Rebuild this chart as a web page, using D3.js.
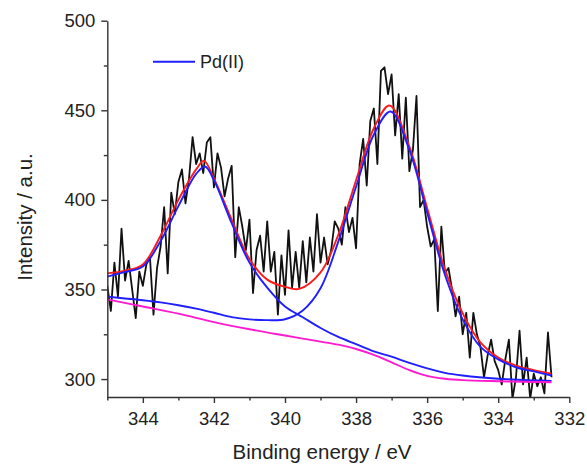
<!DOCTYPE html>
<html>
<head>
<meta charset="utf-8">
<script src="https://cdn.jsdelivr.net/npm/d3@7/dist/d3.min.js"></script>
<style>
  body { margin: 0; background: #fff; }
  svg text { font-family: "Liberation Sans", Arial, sans-serif; fill: #222; }
</style>
</head>
<body>
<div id="chart"></div>
<script>
// raw spectrum, 0.1 eV steps starting at 345 eV
const rawStart = 345
const rawStep = 0.1
const rawCounts = [
  352, 338, 365, 346, 384, 355, 366, 350, 334, 360,
  352, 364, 368, 336, 362, 374, 396, 359, 404, 392,
  410, 417, 398, 412, 435, 420, 426, 415, 432, 435,
  407, 426, 418, 402, 412, 419, 368, 396, 385, 372,
  389, 348, 372, 380, 360, 388, 360, 371, 336, 369,
  347, 383, 351, 371, 351, 377, 354, 379, 360, 392,
  365, 379, 364, 372, 388, 384, 375, 396, 382, 390,
  373, 420, 434, 408, 444, 451, 420, 472, 474, 459,
  470, 436, 459, 423, 457, 416, 428, 458, 396, 400,
  385, 374, 378, 338, 385, 359, 362, 350, 335, 346,
  325, 337, 312, 337, 325, 318, 301, 313, 322, 310,
  305, 297, 311, 322, 289, 301, 327, 297, 312, 289,
  303, 296, 301, 292, 326, 301
]

// fitted envelope (red)
const envE = [345, 344.5, 344, 343.5, 343, 342.5, 342.28, 342, 341.5, 341, 340.5, 340, 339.6, 339, 338.5, 338, 337.5, 337.06, 336.5, 336, 335.5, 335, 334.5, 334, 333.5, 333, 332.5]
const envelope = [359, 360.5, 364, 380, 400, 417, 421.8, 412, 389, 367, 355.5, 351.5, 350.3, 359.5, 380.5, 411, 440, 452.7, 429.8, 395.5, 361.2, 336.7, 320.5, 312, 307.5, 305, 303]

// Pd(II) 3d3/2 component (blue)
const pk1E = [345, 344.5, 344, 343.5, 343, 342.5, 342.25, 342, 341.5, 341, 340.5, 340, 339.5, 339, 338.5, 338, 337.5, 337, 336.5, 336, 335.5, 335, 334, 333, 332.5]
const peak1 = [357.2, 359.8, 362.8, 377, 396.5, 414.5, 418.6, 411, 387, 365, 351, 340.5, 334.5, 328.5, 323.5, 319.5, 315.5, 312.5, 309, 306, 303.5, 302, 300.2, 299.3, 299]

// Pd(II) 3d5/2 component (blue)
const pk2E = [345, 344.5, 344, 343.5, 343, 342.5, 342, 341.5, 341, 340.5, 340, 339.5, 339, 338.5, 338, 337.5, 337.03, 336.5, 336, 335.5, 335, 334.5, 334, 333.5, 333, 332.5]
const peak2 = [346, 345, 344, 342.8, 341.2, 339.3, 337, 334.6, 333.3, 332.9, 333.4, 338.3, 350.7, 376.7, 407.3, 436.5, 449.3, 427.9, 392.8, 358.2, 333.3, 318, 311, 306.6, 304.3, 302]

// Shirley background (magenta)
const bgE = [345, 344, 343, 342, 341, 340, 339.5, 339, 338.5, 338, 337.5, 337, 336.5, 336, 335.5, 335, 334, 333, 332.5]
const background = [344.5, 340.5, 336.5, 331.8, 327.8, 324.3, 322.6, 320.9, 319.2, 316.8, 313.5, 309.3, 305, 301.8, 300.2, 299.4, 298.8, 298.4, 298.2]

const xMajor = [344, 342, 340, 338, 336, 334, 332]
const xMinor = [345, 343, 341, 339, 337, 335, 333]
const yMajor = [300, 350, 400, 450, 500]
const yMinor = [325, 375, 425, 475]

const W = 587, H = 465
const margin = {left: 107.3, right: 17.7, top: 20.7, bottom: 68}

let svg = d3.select("#chart").append("svg")
    .attr("width", W)
    .attr("height", H)

let x = d3.scaleLinear().domain([345, 332]).range([margin.left, W - margin.right])
let y = d3.scaleLinear().domain([290, 500]).range([H - margin.bottom, margin.top])

svg.append("clipPath").attr("id", "plot-clip")
    .append("rect")
        .attr("x", x(345))
        .attr("y", y(500))
        .attr("width", x(332) - x(345))
        .attr("height", y(290) - y(500))

let plot = svg.append("g").attr("clip-path", "url(#plot-clip)")

let rawPts = rawCounts.map((v, i) => [rawStart - i * rawStep, v])
let zip = (es, vs) => es.map((e, i) => [e, vs[i]])

let smooth = d3.line().x(d => x(d[0])).y(d => y(d[1])).curve(d3.curveCatmullRom.alpha(0.5))
let straight = d3.line().x(d => x(d[0])).y(d => y(d[1]))

plot.append("path")
    .attr("d", straight(rawPts))
    .attr("fill", "none")
    .attr("stroke", "#111")
    .attr("stroke-width", 1.8)
    .attr("stroke-linejoin", "round")

let fits = [
    {pts: zip(envE, envelope), color: "#ff1a1a"},
    {pts: zip(pk1E, peak1), color: "#1f1fff"},
    {pts: zip(pk2E, peak2), color: "#1f1fff"},
    {pts: zip(bgE, background), color: "#ff1ad0"}
]
fits.forEach(f => {
    plot.append("path")
        .attr("d", smooth(f.pts))
        .attr("fill", "none")
        .attr("stroke", f.color)
        .attr("stroke-width", 1.9)
})

// axes
let xAxis = svg.append("g")
    .attr("transform", `translate(0,${y(290)})`)
    .call(d3.axisBottom(x).tickValues(xMajor).tickSize(6).tickSizeOuter(0).tickPadding(9).tickFormat(d3.format("d")))
xAxis.selectAll(".tick text").attr("font-size", 18.5)
svg.append("g")
    .attr("transform", `translate(0,${y(290)})`)
    .call(d3.axisBottom(x).tickValues(xMinor).tickSize(3.5).tickSizeOuter(0).tickFormat(""))
    .select(".domain").remove()

let yAxis = svg.append("g")
    .attr("transform", `translate(${x(345)},0)`)
    .call(d3.axisLeft(y).tickValues(yMajor).tickSize(6).tickSizeOuter(0).tickPadding(6))
yAxis.selectAll(".tick text").attr("font-size", 18.5)
svg.append("g")
    .attr("transform", `translate(${x(345)},0)`)
    .call(d3.axisLeft(y).tickValues(yMinor).tickSize(3.5).tickSizeOuter(0).tickFormat(""))
    .select(".domain").remove()

svg.selectAll(".domain, .tick line").attr("stroke", "#333").attr("stroke-width", 1.4)
svg.selectAll(".tick text").attr("fill", "#222")

// axis titles
svg.append("text")
    .attr("x", 322)
    .attr("y", 459)
    .attr("text-anchor", "middle")
    .attr("font-size", 20.5)
    .text("Binding energy / eV")

svg.append("text")
    .attr("transform", "translate(32,217) rotate(-90)")
    .attr("text-anchor", "middle")
    .attr("font-size", 20.5)
    .text("Intensity / a.u.")

// legend
svg.append("line")
    .attr("x1", 153).attr("x2", 195)
    .attr("y1", 61.7).attr("y2", 61.7)
    .attr("stroke", "#1f1fff")
    .attr("stroke-width", 1.9)
svg.append("text")
    .attr("x", 200)
    .attr("y", 68)
    .attr("font-size", 18)
    .text("Pd(II)")
</script>
</body>
</html>
